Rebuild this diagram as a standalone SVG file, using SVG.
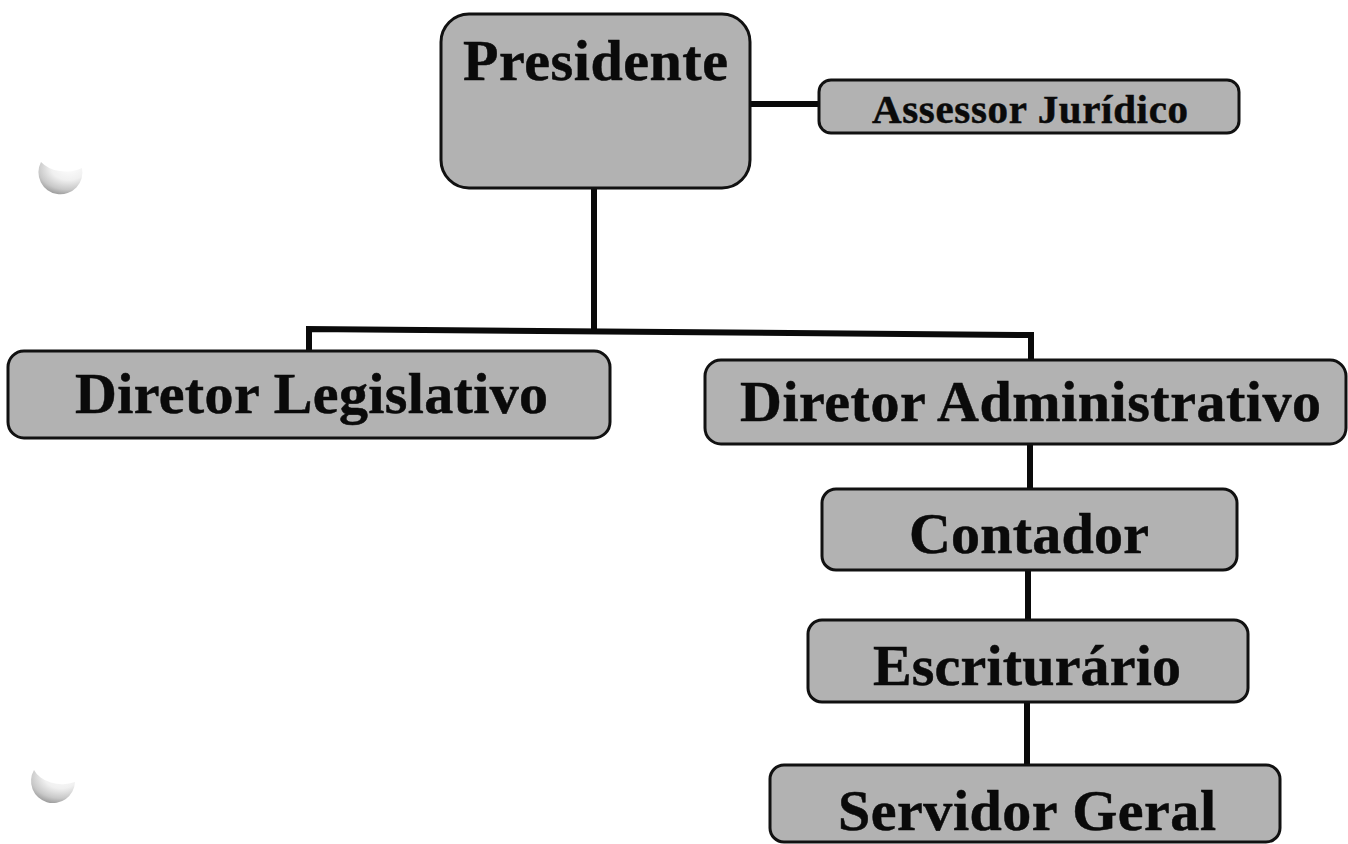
<svg xmlns="http://www.w3.org/2000/svg" width="1348" height="844" viewBox="0 0 1348 844">
<defs>
<style>
.box{fill:#b2b2b2;stroke:#111;stroke-width:3}
.lbl{font-family:"Liberation Serif","Times New Roman",serif;font-weight:bold;fill:#0a0a0a;stroke:#0a0a0a;stroke-width:0.5;text-anchor:start}
.big{font-size:58px}
.small{font-size:41px}
.con{fill:none;stroke:#0a0a0a;stroke-width:6;stroke-linejoin:miter}
</style>
<radialGradient id="hole" cx="0.65" cy="0.2" r="0.9" fx="0.72" fy="0.12">
<stop offset="0" stop-color="#ffffff"/>
<stop offset="0.45" stop-color="#f0f0f0"/>
<stop offset="0.75" stop-color="#c8c8c8"/>
<stop offset="1" stop-color="#8a8a8a"/>
</radialGradient>
</defs>
<rect width="1348" height="844" fill="#ffffff"/>

<g id="punch-holes">
<path d="M41,162 A22,22 0 1 0 82,168 A30,22 0 0 1 41,162 Z" fill="url(#hole)"/>
<path d="M34,770 A22,22 0 1 0 75,782 A30,22 0 0 1 34,770 Z" fill="url(#hole)"/>
</g>

<g id="connectors">
<path class="con" d="M750,104 H820"/>
<path class="con" d="M594,188 V331"/>
<path class="con" d="M309,352 V329 L1031,335 V361"/>
<path class="con" d="M1030,444 V490"/>
<path class="con" d="M1028,570 V621"/>
<path class="con" d="M1027,702 V766"/>
</g>

<g id="presidente">
<rect class="box" x="441" y="14" width="309" height="174" rx="28"/>
<text class="lbl big" x="463" y="80" textLength="265" lengthAdjust="spacing">Presidente</text>
</g>

<g id="assessor-juridico">
<rect class="box" x="819" y="80" width="420" height="53" rx="12"/>
<text class="lbl small" x="872" y="123" textLength="316" lengthAdjust="spacing">Assessor Jurídico</text>
</g>

<g id="diretor-legislativo">
<rect class="box" x="8" y="351" width="602" height="87" rx="16"/>
<text class="lbl big" x="75" y="413" textLength="473" lengthAdjust="spacing">Diretor Legislativo</text>
</g>

<g id="diretor-administrativo">
<rect class="box" x="705" y="360" width="641" height="84" rx="16"/>
<text class="lbl big" x="740" y="421" textLength="581" lengthAdjust="spacing">Diretor Administrativo</text>
</g>

<g id="contador">
<rect class="box" x="822" y="489" width="415" height="81" rx="14"/>
<text class="lbl big" x="909" y="553" textLength="240" lengthAdjust="spacing">Contador</text>
</g>

<g id="escriturario">
<rect class="box" x="808" y="620" width="440" height="82" rx="14"/>
<text class="lbl big" x="873" y="685" textLength="308" lengthAdjust="spacing">Escriturário</text>
</g>

<g id="servidor-geral">
<rect class="box" x="770" y="765" width="510" height="77" rx="14"/>
<text class="lbl big" x="838" y="830" textLength="378" lengthAdjust="spacing">Servidor Geral</text>
</g>
</svg>
